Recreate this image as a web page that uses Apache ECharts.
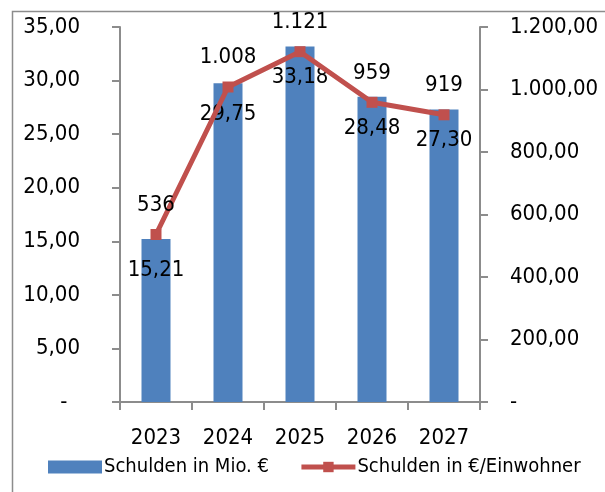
<!DOCTYPE html>
<html><head><meta charset="utf-8">
<script src="https://cdn.jsdelivr.net/npm/echarts@6/dist/echarts.min.js"></script>
<style>html,body{margin:0;padding:0;background:#fff}#c{width:605px;height:492px}</style>
</head><body><div id="c"></div>
<script>
var categories = ['2023','2024','2025','2026','2027'];
var debtMio = [15.21, 29.75, 33.18, 28.48, 27.30];
var debtPerCapita = [536, 1008, 1121, 959, 919];
var seriesNames = ['Schulden in Mio. €', 'Schulden in €/Einwohner'];

var FONT = '"DejaVu Sans Condensed", Roboto, sans-serif';
var FS = 22;
function thousands(s){ return s.replace(/\B(?=(\d{3})+(?!\d))/g, '.'); }
function fmt2(v){ if (v === 0) return '-'; var p = v.toFixed(2).split('.'); return thousands(p[0]) + ',' + p[1]; }
function fmt0(v){ return thousands(Math.round(v).toString()); }

var chart = echarts.init(document.getElementById('c'), null, {renderer:'canvas'});
chart.setOption({
  animation:false,
  textStyle:{fontFamily:FONT},
  graphic:[{type:'rect', shape:{x:12.5,y:11.5,width:700,height:600}, style:{fill:'none', stroke:'#8c8c8c', lineWidth:1.5}, silent:true}],
  grid:{left:120, right:125, top:27, bottom:90},
  legend:{
    left:43, top:452, width:600, itemGap:30, itemWidth:54, itemHeight:13,
    textStyle:{fontFamily:FONT, fontSize:20, color:'#000', padding:[0,0,0,-3]},
    data:[{name:seriesNames[0], icon:'rect'},
          {name:seriesNames[1], lineStyle:{width:5, color:'#c0504d'}, itemStyle:{color:'#c0504d'}}]
  },
  xAxis:{
    type:'category', data:categories,
    axisLine:{lineStyle:{color:'#8c8c8c', width:2}},
    axisTick:{show:true, length:8, lineStyle:{color:'#8c8c8c', width:2}},
    axisLabel:{fontFamily:FONT, fontSize:FS, color:'#000', margin:25, interval:0}
  },
  yAxis:[{
    type:'value', min:0, max:35, interval:5, position:'left',
    axisLine:{show:true, lineStyle:{color:'#8c8c8c', width:2}},
    axisTick:{show:true, length:8, lineStyle:{color:'#8c8c8c', width:2}},
    splitLine:{show:false},
    axisLabel:{fontFamily:FONT, fontSize:FS, color:'#000', margin:40,
      formatter:function(v){ return v === 0 ? '-  ' : fmt2(v); }}
  },{
    type:'value', min:0, max:1200, interval:200, position:'right',
    axisLine:{show:true, lineStyle:{color:'#8c8c8c', width:2}},
    axisTick:{show:true, length:8, lineStyle:{color:'#8c8c8c', width:2}},
    splitLine:{show:false},
    axisLabel:{fontFamily:FONT, fontSize:FS, color:'#000', margin:30, formatter:fmt2}
  }],
  series:[{
    name:seriesNames[0], type:'bar', yAxisIndex:0, data:debtMio, barWidth:29,
    itemStyle:{color:'#4f81bd'},
    label:{show:true, position:'insideTop', distance:20, fontFamily:FONT, fontSize:FS, color:'#000',
      formatter:function(p){return fmt2(p.value);}}
  },{
    name:seriesNames[1], type:'line', yAxisIndex:1, data:debtPerCapita,
    symbol:'rect', symbolSize:11, lineStyle:{color:'#c0504d', width:5}, itemStyle:{color:'#c0504d'},
    label:{show:true, position:'top', distance:13, fontFamily:FONT, fontSize:FS, color:'#000',
      formatter:function(p){return fmt0(p.value);}}
  }]
});
</script></body></html>
